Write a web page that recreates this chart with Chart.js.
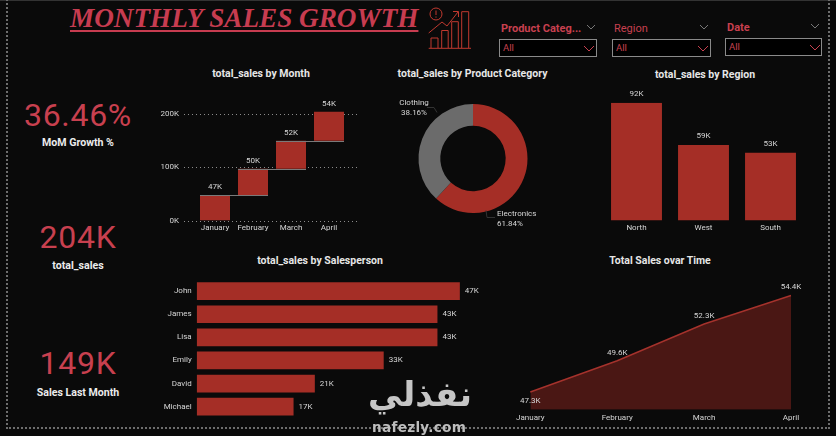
<!DOCTYPE html>
<html><head><meta charset="utf-8">
<script src="https://cdn.jsdelivr.net/npm/chart.js@4"></script>
<style>
html,body{margin:0;padding:0;background:#0a0a0a;overflow:hidden}
#page{position:relative;width:836px;height:436px;background:#0a0a0a;overflow:hidden;font-family:Roboto,sans-serif}
#page>*{position:absolute}
.frame{left:6px;top:-4px;width:824px;height:433px;border:2px dotted #6e6e6e;box-sizing:border-box}
.topline{left:0;top:0;width:836px;height:1px;background:#333}
.main{left:70px;top:0;font:italic bold 27.2px "Liberation Serif",serif;color:#c73c50;text-decoration:underline;text-decoration-thickness:2px;text-underline-offset:3px;white-space:nowrap;line-height:36px}
.ct{transform:translate(-50%,-50%);font-weight:700;font-size:10.5px;color:#e6e6e6;white-space:nowrap}
.kpi{transform:translate(-50%,-50%);font-size:32px;color:#c8404f;letter-spacing:.7px;white-space:nowrap}
.kl{transform:translate(-50%,-50%);font-weight:700;font-size:10.6px;color:#ececec;white-space:nowrap}
.sl{font-weight:700;font-size:11px;color:#c8404f;white-space:nowrap;line-height:12px}
.box{box-sizing:border-box;height:18px;border:1.5px solid #8a8a8a;background:#000;color:#c8404f;font-size:9.5px;line-height:15px;padding-left:3px}
.wm1{left:368px;top:372px;font:bold 34px "DejaVu Sans",sans-serif;color:#c6c6c6;line-height:44px;direction:rtl;white-space:nowrap}
.wm2{left:372px;top:419px;font:bold 13.6px "DejaVu Sans",sans-serif;color:#bdbdbd;line-height:16px;letter-spacing:.3px;white-space:nowrap}
</style></head><body>
<div id="page">
<div class="topline"></div><div class="frame"></div>
<div class="main">MONTHLY SALES GROWTH</div>
<svg style="left:426px;top:6px" width="48" height="46" viewBox="426 6 48 46" fill="none" stroke="#c0392f" stroke-width="1">
<circle cx="436" cy="14" r="6"/><path d="M436 10.5v4.5M436 16.5v1.2"/>
<path d="M428.7 33L442 22L447 26L458 12M453 11.5h5.5v5.5"/>
<path d="M431 48V38h7v10M441.7 48V30.5h6.5V48M451.7 48V21.7h6.6V48M461.7 48V11.7h7V48M428.7 48.3H471"/>
</svg>
<div class="sl" style="left:501px;top:23px">Product Categ...</div>
<div class="sl" style="left:614px;top:23px;font-weight:400">Region</div>
<div class="sl" style="left:727px;top:22px">Date</div>
<div class="box" style="left:499px;top:39px;width:98px">All</div>
<div class="box" style="left:612px;top:39px;width:99px">All</div>
<div class="box" style="left:725px;top:38px;width:97px">All</div>
<svg style="left:0;top:0" width="836" height="60" fill="none" stroke="#777" stroke-width="1">
<path d="M587 25l4 4 4-4M700 25l4 4 4-4M811 24l4 4 4-4"/>
<path stroke="#c8404f" d="M584 46l5 5 5-5M698 46l5 5 5-5M810 45l5 5 5-5"/>
</svg>
<div class="ct" style="left:261px;top:72.5px">total_sales by Month</div>
<div class="ct" style="left:472.5px;top:72.5px">total_sales by Product Category</div>
<div class="ct" style="left:705px;top:73.5px">total_sales by Region</div>
<div class="ct" style="left:320px;top:259.5px">total_sales by Salesperson</div>
<div class="ct" style="left:660px;top:259.5px">Total Sales ovar Time</div>
<div class="kpi" style="left:78px;top:115px">36.46%</div>
<div class="kl" style="left:78px;top:141.5px">MoM Growth %</div>
<div class="kpi" style="left:78px;top:237px">204K</div>
<div class="kl" style="left:78px;top:264.5px">total_sales</div>
<div class="kpi" style="left:78px;top:363px">149K</div>
<div class="kl" style="left:78px;top:391.5px">Sales Last Month</div>
<canvas id="cMonth" style="left:150px;top:90px"></canvas>
<canvas id="cCat" style="left:390px;top:90px"></canvas>
<canvas id="cRegion" style="left:590px;top:85px"></canvas>
<canvas id="cPerson" style="left:140px;top:275px"></canvas>
<canvas id="cTime" style="left:490px;top:275px"></canvas>
<div class="wm1">نفذلي</div>
<div class="wm2">nafezly.com</div>
</div>
<script>
const months=["January","February","March","April"];
const monthlySales=[47.3,49.6,52.3,54.4];
const monthTicks=[0,100,200];
const categories=["Electronics","Clothing"];
const categoryShare=[61.84,38.16];
const regions=["North","West","South"];
const regionSales=[92,59,53];
const people=["John","James","Lisa","Emily","David","Michael"];
const peopleSales=[47,43,43,33.4,21.1,17.3];

const RED="#a52e26",GREY="#6b6b6b",TXT="#d6d6d6";
const FONT={family:"Roboto",size:8};
const CFONT="8px Roboto";
Chart.defaults.animation=false;
Chart.defaults.responsive=false;
Chart.defaults.plugins.legend.display=false;
Chart.defaults.plugins.tooltip.enabled=false;
Chart.defaults.layout.autoPadding=false;

function size(id,w,h){const c=document.getElementById(id);c.width=w;c.height=h;c.style.width=w+"px";c.style.height=h+"px";return c;}
function fit(key,v){return s=>{s[key]=v;s.paddingTop=0;s.paddingBottom=0;s.paddingLeft=0;s.paddingRight=0;};}
function barLabels(texts,dx,dy,align){return {id:"barLabels",afterDatasetsDraw(ch){
  const c=ch.ctx;c.save();c.font=CFONT;c.fillStyle=TXT;c.textAlign=align||"center";c.textBaseline="middle";
  ch.getDatasetMeta(0).data.forEach((el,i)=>{c.fillText(texts[i],el.x+dx,el.y+(typeof dy==="function"?dy(i):dy));});
  c.restore();}};}
const NOGRID={display:false,drawTicks:false};

// waterfall: each month rises from the running total
const running=[];monthlySales.reduce((t,v)=>{running.push([t,t+v]);return t+v;},0);
const waterfallExtras={id:"waterfallExtras",
 beforeDatasetsDraw(ch){const c=ch.ctx,y=ch.scales.y,a=ch.chartArea;c.save();c.strokeStyle="#8c8c8c";c.lineWidth=1;c.setLineDash([1,3]);
  monthTicks.forEach(t=>{const p=Math.round(y.getPixelForValue(t))+.5;c.beginPath();c.moveTo(a.left-12,p);c.lineTo(a.right+12,p);c.stroke();});c.restore();},
 afterDatasetsDraw(ch){const c=ch.ctx,d=ch.getDatasetMeta(0).data;c.save();c.strokeStyle="#7a7a7a";c.lineWidth=1;
  d.forEach((el,i)=>{if(i===d.length-1)return;const n=d[i+1],p=Math.round(el.y)+.5;c.beginPath();c.moveTo(el.x-el.width/2,p);c.lineTo(n.x+n.width/2,p);c.stroke();});c.restore();}};
size("cMonth",220,145);
new Chart("cMonth",{type:"bar",
 data:{labels:months,datasets:[{data:running,backgroundColor:RED,barPercentage:.79,categoryPercentage:1}]},
 plugins:[waterfallExtras,barLabels(monthlySales.map(v=>Math.round(v)+"K"),0,-8)],
 options:{layout:{padding:{top:15,right:22,left:0,bottom:0}},scales:{
  x:{grid:NOGRID,border:{display:false},afterFit:fit("height",14.5),ticks:{color:TXT,font:FONT,padding:3,maxRotation:0,autoSkip:false}},
  y:{min:0,max:216,grid:NOGRID,border:{display:false},afterFit:fit("width",46),
     afterBuildTicks:s=>{s.ticks=monthTicks.map(v=>({value:v}));},
     ticks:{color:TXT,font:FONT,padding:17,callback:v=>v+"K"}}}}});

// donut
const donutNotes={id:"donutNotes",afterDatasetsDraw(ch){const c=ch.ctx,el=ch.getDatasetMeta(0).data[0],cx=el.x,cy=el.y;c.save();c.font=CFONT;c.fillStyle=TXT;
  c.textBaseline="middle";c.textAlign="left";
  c.fillText(categories[0],cx+24,cy+55);c.fillText(categoryShare[0].toFixed(2)+"%",cx+24,cy+65);
  c.textAlign="center";
  c.fillText(categories[1],cx-59,cy-56);c.fillText(categoryShare[1].toFixed(2)+"%",cx-59,cy-46);
  c.strokeStyle="#333";c.beginPath();c.moveTo(cx+13,cy+52);c.lineTo(cx+14,cy+59);c.lineTo(cx+22,cy+59);c.moveTo(cx-46,cy-51);c.lineTo(cx-39,cy-51);c.lineTo(cx-36,cy-46);c.stroke();c.restore();}};
size("cCat",166,145);
new Chart("cCat",{type:"doughnut",
 data:{labels:categories,datasets:[{data:categoryShare,backgroundColor:[RED,GREY],borderWidth:0}]},
 plugins:[donutNotes],
 options:{cutout:"60%",layout:{padding:{left:28,right:28,top:14,bottom:22}}}});

// region
size("cRegion",226,150);
new Chart("cRegion",{type:"bar",
 data:{labels:regions,datasets:[{data:regionSales,backgroundColor:RED,barPercentage:.76,categoryPercentage:1}]},
 plugins:[barLabels(regionSales.map(v=>v+"K"),0,-8.5)],
 options:{layout:{padding:{top:17.7,left:0,right:12,bottom:0}},scales:{
  x:{grid:NOGRID,border:{display:false},afterFit:fit("height",14.5),ticks:{color:TXT,font:FONT,padding:3,maxRotation:0}},
  y:{min:0,max:92,display:true,grid:NOGRID,border:{display:false},afterFit:fit("width",13),ticks:{display:false}}}}});

// salesperson
size("cPerson",350,150);
new Chart("cPerson",{type:"bar",
 data:{labels:people,datasets:[{data:peopleSales,backgroundColor:RED,barPercentage:.765,categoryPercentage:1}]},
 plugins:[barLabels(peopleSales.map(v=>Math.round(v)+"K"),5,0,"left")],
 options:{indexAxis:"y",layout:{padding:{top:4.6,right:10,bottom:6.8}},scales:{
  x:{min:0,max:50.6,display:false},
  y:{grid:NOGRID,border:{display:false},afterFit:fit("width",56.7),ticks:{color:TXT,font:FONT,padding:5,autoSkip:false}}}}});

// area
size("cTime",346,160);
new Chart("cTime",{type:"line",
 data:{labels:months,datasets:[{data:monthlySales,borderColor:"#a5322c",borderWidth:1.5,backgroundColor:"#4a1714",fill:"start",pointRadius:0,tension:0}]},
 plugins:[barLabels(monthlySales.map(v=>v.toFixed(1)+"K"),0,i=>i===0?8.5:-8)],
 options:{layout:{padding:{top:10,left:0,right:45,bottom:0}},scales:{
  x:{offset:false,grid:NOGRID,border:{display:false},afterFit:fit("height",25.3),ticks:{color:TXT,font:FONT,padding:3,maxRotation:0,autoSkip:false}},
  y:{min:46,max:55.17,grid:NOGRID,border:{display:false},afterFit:fit("width",40.3),ticks:{display:false}}}}});
</script>
</body></html>
